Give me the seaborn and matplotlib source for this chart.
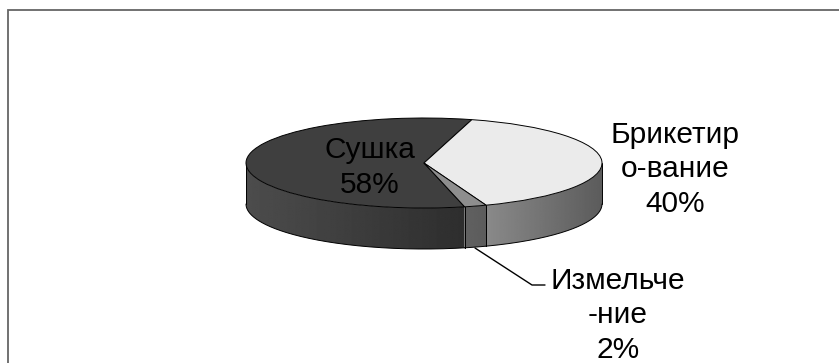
import numpy as np
import matplotlib
matplotlib.use("Agg")
import matplotlib.pyplot as plt
from matplotlib.patches import Polygon, Rectangle
import seaborn as sns

# data
labels = ["Сушка", "Брикетир\nо-вание", "Измельче\n-ние"]
shares = [58, 40, 2]

# styles
top_colors = ["#3f3f3f", "#ebebeb", "#8e8e8e"]
side_shades = [(0.30, 0.18), (0.54, 0.36), (0.38, 0.36)]   # grey level at left / right end of the wall
label_pos = [(370, 193), (675, 212), (618, 358)]           # pixel position of last baseline

sns.set_theme(style="white")
plt.rcParams["font.family"] = ["Liberation Sans", "DejaVu Sans"]

W, H = 839, 363
X0, Y0, A, B = 424, 163, 178, 45      # pie centre and half axes in pixels
DEPTH = 41 / B


def px(x, y):
    return (x - X0) / A, (Y0 - y) / B


fig = plt.figure(figsize=(W / 100, H / 100), dpi=100)
ax = fig.add_axes([0, 0, 1, 1])

wedges, _ = ax.pie(shares, startangle=-76.8, counterclock=False, radius=1,
                   colors=top_colors,
                   wedgeprops=dict(edgecolor="black", linewidth=0.7))
for w in wedges:
    w.set_zorder(3)

# side walls of the 3d pie, shaded with a clipped gradient
for w, (lo, hi) in zip(wedges, side_shades):
    t1, t2 = w.theta1, w.theta2
    for k in range(int(np.floor(t1 / 360)) - 1, int(np.ceil(t2 / 360)) + 1):
        a, b = max(t1, 180 + 360 * k), min(t2, 360 + 360 * k)
        if b <= a:
            continue
        t = np.radians(np.linspace(a, b, int((b - a) * 2) + 2))
        xs, ys = np.cos(t), np.sin(t)
        verts = np.vstack([np.column_stack([xs, ys]),
                           np.column_stack([xs[::-1], ys[::-1] - DEPTH])])
        wall = Polygon(verts, closed=True, facecolor="none", edgecolor="none", zorder=1)
        ax.add_patch(wall)
        xmin, xmax = xs.min(), xs.max()
        grad = np.linspace(lo, hi, 200)[None, :]
        im = ax.imshow(grad, cmap="gray", vmin=0, vmax=1, aspect="auto",
                       extent=(xmin, xmax, ys.min() - DEPTH, ys.max()),
                       interpolation="bilinear", zorder=1)
        im.set_clip_path(wall)
        ax.plot(xs, ys - DEPTH, color="black", lw=0.7, zorder=2)
        for e in (0, -1):
            ax.plot([xs[e], xs[e]], [ys[e], ys[e] - DEPTH], color="black", lw=0.7, zorder=2)

# labels
for lab, s, (lx, ly) in zip(labels, shares, label_pos):
    x, y = px(lx, ly)
    ax.text(x, y, f"{lab}\n{s}%", ha="center", va="baseline", multialignment="center",
            fontsize=21.5, linespacing=1.3, color="black", zorder=5)

# leader line for the small slice
lx, ly = zip(px(475, 248), px(532, 285), px(545, 285))
ax.plot(lx, ly, color="black", lw=1.0, zorder=4)

ax.set_aspect("auto")
ax.set_xlim((0 - X0) / A, (W - X0) / A)
ax.set_ylim((Y0 - H) / B, Y0 / B)
ax.axis("off")

fig.add_artist(Rectangle((8 / W, -0.1), 1.2, (H - 10) / H + 0.1, transform=fig.transFigure,
                         fill=False, edgecolor="#666666", linewidth=1.3))

fig.savefig("out.png", dpi=100)
